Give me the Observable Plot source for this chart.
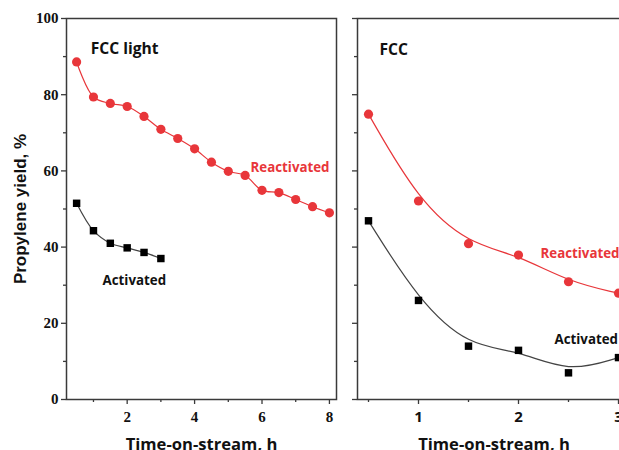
<!DOCTYPE html>
<html>
<head>
<meta charset="utf-8">
<script src="https://cdn.jsdelivr.net/npm/d3@7"></script>
<script src="https://cdn.jsdelivr.net/npm/@observablehq/plot@0.6"></script>
<style>
  body { margin: 0; background: #fff; }
  #chart { position: relative; width: 619px; height: 450px; overflow: hidden; background: #fff; }
  #chart svg { position: absolute; top: 0; background: transparent; }
</style>
</head>
<body>
<div id="chart"></div>
<script>
// FCC light feed: propylene yield vs time-on-stream
const lightReactHours = [0.5, 1, 1.5, 2, 2.5, 3, 3.5, 4, 4.5, 5, 5.5, 6, 6.5, 7, 7.5, 8];
const lightReactYield = [88.6, 79.4, 77.7, 76.9, 74.3, 70.9, 68.5, 65.8, 62.3, 59.9, 58.8, 54.9, 54.3, 52.5, 50.6, 49.0];
const lightActHours = [0.5, 1, 1.5, 2, 2.5, 3];
const lightActYield = [51.5, 44.3, 41.0, 39.8, 38.6, 37.0];

// FCC feed: propylene yield vs time-on-stream
const fccHours = [0.5, 1, 1.5, 2, 2.5, 3];
const fccReactYield = [74.9, 52.1, 40.9, 37.9, 30.9, 27.9];
const fccActYield = [46.9, 26.0, 14.0, 12.9, 7.0, 11.0];

// Axis ticks
const yMajor = [0, 20, 40, 60, 80, 100];
const yMinor = [10, 30, 50, 70, 90];
const lightXMajor = [2, 4, 6, 8];
const lightXMinor = [1, 3, 5, 7];
const fccXMajor = [1, 2, 3];
const fccXMinor = [0.5, 1.5, 2.5];

// Labels
const yTitle = "Propylene yield, %";
const xTitle = "Time-on-stream, h";
const lightLabels = [
  {x: 0.92, y: 91.9, text: "FCC light", size: 15.6, color: "#111"},
  {x: 5.66, y: 60.9, text: "Reactivated", size: 13.3, color: "#e8363a"},
  {x: 1.27, y: 31.3, text: "Activated", size: 13.3, color: "#111"}
];
const fccLabels = [
  {x: 0.61, y: 91.8, text: "FCC", size: 15.6, color: "#111"},
  {x: 2.22, y: 38.3, text: "Reactivated", size: 13.3, color: "#e8363a"},
  {x: 2.36, y: 15.6, text: "Activated", size: 13.3, color: "#111"}
];

const RED = "#e8363a";
const AXIS = "#3a3a3a";
const SANS = "'Open Sans', sans-serif";

const zip = (xs, ys) => xs.map((x, i) => ({x, y: ys[i]}));

function yAxes(withLabels) {
  return [
    Plot.axisY({ticks: yMajor, tickSize: 5, tickPadding: 3, stroke: AXIS, strokeWidth: 1.3,
      fill: "#111", fontFamily: "'Liberation Serif', serif", fontWeight: "bold", fontSize: 15,
      label: null, tickFormat: withLabels ? (d => String(d)) : (() => "")}),
    Plot.axisY({ticks: yMinor, tickSize: 3, stroke: AXIS, strokeWidth: 1.3, label: null, tickFormat: () => ""})
  ];
}

function xAxes(major, minor, font) {
  return [
    Plot.axisX({ticks: major, tickSize: 5, tickPadding: 7, stroke: AXIS, strokeWidth: 1.3,
      fill: "#111", fontFamily: font, fontWeight: "bold", fontSize: 15, label: null,
      tickFormat: d => String(d)}),
    Plot.axisX({ticks: minor, tickSize: 3, stroke: AXIS, strokeWidth: 1.3, label: null, tickFormat: () => ""})
  ];
}

function labelMarks(labels) {
  return Plot.text(labels, {
    x: "x", y: "y", text: "text", fill: "color", fontSize: "size",
    textAnchor: "start", lineAnchor: "middle", fontFamily: SANS, fontWeight: "bold"
  });
}

function xTitleMark() {
  return Plot.text([xTitle], {text: d => d, frameAnchor: "bottom", textAnchor: "middle", lineAnchor: "bottom", dy: 50,
    fontFamily: SANS, fontWeight: "bold", fontSize: 16.6, fill: "#111"});
}

const left = Plot.plot({
  width: 340, height: 450,
  marginLeft: 66, marginRight: 4, marginTop: 18, marginBottom: 51,
  x: {domain: [0.2, 8.21]},
  y: {domain: [0, 100]},
  style: {background: "transparent", overflow: "visible"},
  marks: [
    ...yAxes(true),
    ...xAxes(lightXMajor, lightXMinor, "'Liberation Serif', serif"),
    Plot.frame({stroke: AXIS, strokeWidth: 1.5}),
    Plot.line(zip(lightReactHours, lightReactYield), {x: "x", y: "y", stroke: RED, strokeWidth: 1.2, curve: "catmull-rom"}),
    Plot.dot(zip(lightReactHours, lightReactYield), {x: "x", y: "y", fill: RED, r: 4.6, symbol: "circle"}),
    Plot.line(zip(lightActHours, lightActYield), {x: "x", y: "y", stroke: "#444", strokeWidth: 1.2, curve: "catmull-rom"}),
    Plot.dot(zip(lightActHours, lightActYield), {x: "x", y: "y", fill: "#000", r: 4.2, symbol: "square"}),
    labelMarks(lightLabels),
    Plot.text([yTitle], {text: d => d, frameAnchor: "left", textAnchor: "middle", rotate: -90, dx: -46, lineAnchor: "middle",
      fontFamily: "'Liberation Sans', Arial, sans-serif", fontWeight: "bold", fontSize: 17, fill: "#111"}),
    xTitleMark()
  ]
});
left.style.left = "0px";

const right = Plot.plot({
  width: 300, height: 450,
  marginLeft: 17, marginRight: 10, marginTop: 18, marginBottom: 51,
  x: {domain: [0.39, 3.12]},
  y: {domain: [0, 100]},
  style: {background: "transparent", overflow: "visible"},
  marks: [
    ...yAxes(false),
    ...xAxes(fccXMajor, fccXMinor, SANS),
    Plot.frame({stroke: AXIS, strokeWidth: 1.5}),
    Plot.line(zip(fccHours, fccReactYield), {x: "x", y: "y", stroke: RED, strokeWidth: 1.2, curve: "basis"}),
    Plot.dot(zip(fccHours, fccReactYield), {x: "x", y: "y", fill: RED, r: 4.6, symbol: "circle"}),
    Plot.line(zip(fccHours, fccActYield), {x: "x", y: "y", stroke: "#444", strokeWidth: 1.2, curve: "basis"}),
    Plot.dot(zip(fccHours, fccActYield), {x: "x", y: "y", fill: "#000", r: 4.2, symbol: "square"}),
    labelMarks(fccLabels),
    xTitleMark()
  ]
});
right.style.left = "340px";

const chart = document.getElementById("chart");
chart.append(left, right);
</script>
</body>
</html>
